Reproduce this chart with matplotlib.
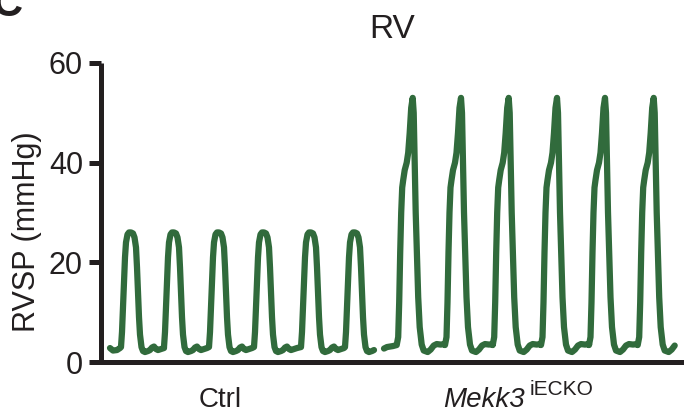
import matplotlib.pyplot as plt
import matplotlib.transforms as mtransforms
import numpy as np

plt.rcParams['font.family'] = ['Liberation Sans', 'DejaVu Sans']

# one Ctrl beat, offsets from the systolic peak and pressure (mmHg)
ctrl_beat_dt = [-10, -9, -8, -7, -6, -5, -3.5, -2, 0, 2, 3.5, 5, 6, 7, 8, 9, 10.5, 12,
                14, 17, 19, 21, 23, 25, 27, 30, 33]
ctrl_beat_p = [3.0, 6, 11, 16, 21, 24, 25.6, 26, 26, 25.8, 25, 23, 19, 14, 9, 5.5, 3.0,
               2.2, 2.0, 2.2, 2.4, 2.9, 3.1, 2.6, 2.4, 2.6, 2.8]
ctrl_peaks = [30, 73, 118, 163, 210, 254]
ctrl_lead_t = [9, 12, 16, 19]
ctrl_lead_p = [2.8, 2.3, 2.4, 2.8]
ctrl_end = 273

# one Mekk3 iECKO beat
mekk_beat_dt = [-16, -14.5, -13.5, -12.5, -11.5, -10.5, -9.5, -8, -6, -4.5, -3, -1.5, 0,
                1, 2, 3, 4.5, 5.5, 7, 9, 11, 15, 18, 21, 24, 28, 32]
mekk_beat_p = [3.4, 5, 12, 22, 30, 35, 36.5, 38.5, 40, 42, 46, 51, 53,
               50, 40, 30, 20, 13, 7, 3.5, 2.3, 2.0, 2.5, 3.3, 3.6, 3.5, 3.6]
mekk_peaks = [311.7, 360, 407.7, 456, 504, 552.7]
mekk_lead_t = [283, 286, 292]
mekk_lead_p = [2.7, 3.0, 3.2]
mekk_end = 574


def build_trace(lead_t, lead_p, peaks, beat_dt, beat_p, end):
    t = list(lead_t)
    p = list(lead_p)
    for pk in peaks:
        for dt, v in zip(beat_dt, beat_p):
            if pk + dt <= end:
                t.append(pk + dt)
                p.append(v)
    return np.array(t), np.array(p)


green = '#316b3c'
ink = '#231f20'

fig = plt.figure(figsize=(6.84, 4.17), dpi=100)
ax = fig.add_axes([101 / 684, 55 / 417, 583 / 684, 299 / 417])

t1, p1 = build_trace(ctrl_lead_t, ctrl_lead_p, ctrl_peaks, ctrl_beat_dt, ctrl_beat_p, ctrl_end)
t2, p2 = build_trace(mekk_lead_t, mekk_lead_p, mekk_peaks, mekk_beat_dt, mekk_beat_p, mekk_end)
ax.plot(t1, p1, color=green, lw=4.5, solid_joinstyle='round', solid_capstyle='round')
ax.plot(t2, p2, color=green, lw=4.5, solid_joinstyle='round', solid_capstyle='round')

ax.set_xlim(0, 583)
ax.set_ylim(0, 60)
ax.set_yticks([0, 20, 40, 60])
ax.set_xticks([])
ax.spines['top'].set_visible(False)
ax.spines['right'].set_visible(False)
for s in ['left', 'bottom']:
    ax.spines[s].set_linewidth(3.6)
    ax.spines[s].set_color(ink)
ax.spines['left'].set_capstyle('butt')
ax.tick_params(axis='y', length=9, width=3.6, color=ink, labelsize=22,
               pad=4, labelcolor=ink)

ax.set_ylabel('RVSP (mmHg)', fontsize=22, color=ink)
ax.yaxis.set_label_coords(-0.101, 0.437)
ax.set_title('RV', fontsize=24, pad=18, color=ink)

trans = mtransforms.blended_transform_factory(ax.transData, ax.transAxes)
ax.text(119, -0.150, 'Ctrl', transform=trans, ha='center', va='baseline',
        fontsize=20, color=ink)
ax.text(424, -0.150, 'Mekk3', transform=trans, ha='right', va='baseline',
        fontsize=20, style='italic', color=ink)
ax.text(429, -0.110, 'iECKO', transform=trans, ha='left', va='baseline',
        fontsize=15, color=ink)

fig.text(-8 / 684, 1 - 16 / 417, 'C', fontsize=30, fontweight='bold',
         ha='left', va='baseline', color=ink)

fig.savefig('out.png', dpi=100)
